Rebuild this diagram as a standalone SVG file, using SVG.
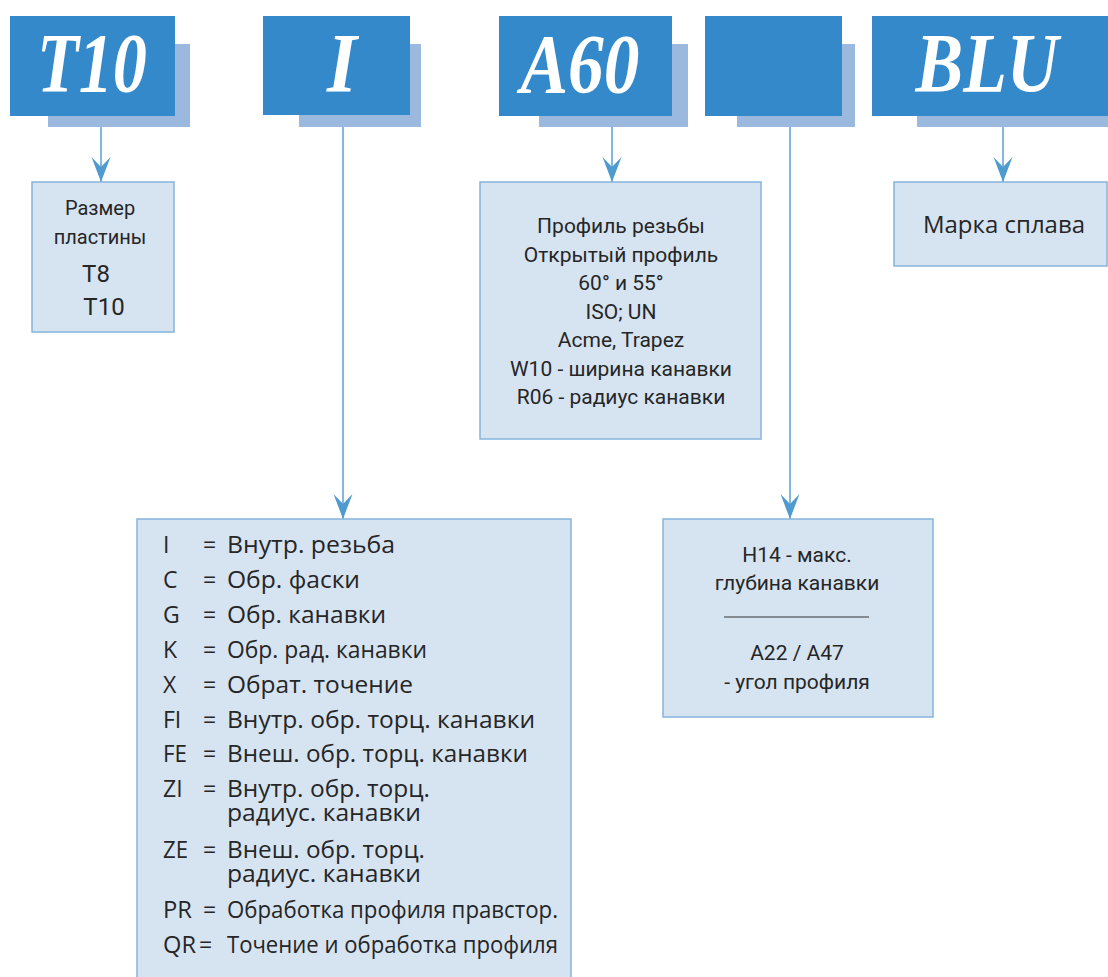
<svg xmlns="http://www.w3.org/2000/svg" width="1108" height="977" viewBox="0 0 1108 977">
<style>
.hdr{fill:#3489CA}
.shd{fill:#9BB9DF}
.ht{font-family:"Liberation Serif",serif;font-weight:bold;font-style:italic;font-size:84px;fill:#fff;text-anchor:middle}
.nb{fill:#D6E4F2;stroke:#86B4DC;stroke-width:1.5}
.t{font-family:Roboto,"Liberation Sans",sans-serif;fill:#262626;text-anchor:middle}
.lg{font-family:"Open Sans","Liberation Sans",sans-serif;font-size:23px;fill:#262626}
.cn{stroke:#5A9FD4;stroke-width:1.5;fill:none}
</style>
<defs>
<marker id="ah" markerUnits="userSpaceOnUse" viewBox="0 -10 25 20" refX="25" refY="0" markerWidth="25" markerHeight="20" orient="auto">
<path d="M0,-9.5 L25,0 L0,9.5 L10,0 Z" fill="#4E9BD0"/>
</marker>
</defs>

<g id="hdr-t10">
<rect class="shd" x="48" y="44" width="142" height="83"/>
<rect class="hdr" x="10" y="16" width="165" height="100"/>
<text class="ht" x="92" y="92" textLength="110" lengthAdjust="spacingAndGlyphs">T10</text>
</g>
<g id="hdr-i">
<rect class="shd" x="299" y="44" width="122" height="83"/>
<rect class="hdr" x="263" y="16" width="147" height="99"/>
<text class="ht" x="342" y="92" textLength="30" lengthAdjust="spacingAndGlyphs">I</text>
</g>
<g id="hdr-a60">
<rect class="shd" x="539" y="44" width="149" height="83"/>
<rect class="hdr" x="499" y="16" width="173" height="100"/>
<text class="ht" x="580" y="93" textLength="119" lengthAdjust="spacingAndGlyphs">A60</text>
</g>
<g id="hdr-blank">
<rect class="shd" x="737" y="44" width="118" height="83"/>
<rect class="hdr" x="705" y="16" width="137" height="100"/>
</g>
<g id="hdr-blu">
<rect class="shd" x="917" y="44" width="191" height="83"/>
<rect class="hdr" x="872" y="16" width="236" height="100"/>
<text class="ht" x="987" y="92" textLength="143" lengthAdjust="spacingAndGlyphs">BLU</text>
</g>

<g id="connectors">
<line class="cn" x1="101" y1="127" x2="101" y2="182" marker-end="url(#ah)"/>
<line class="cn" x1="343" y1="127" x2="343" y2="519" marker-end="url(#ah)"/>
<line class="cn" x1="612" y1="127" x2="612" y2="182" marker-end="url(#ah)"/>
<line class="cn" x1="790" y1="127" x2="790" y2="519" marker-end="url(#ah)"/>
<line class="cn" x1="1003" y1="127" x2="1003" y2="182" marker-end="url(#ah)"/>
</g>

<g id="node-size">
<rect class="nb" x="32" y="182" width="142" height="150"/>
<text class="t" x="100" y="215" font-size="20">Размер</text>
<text class="t" x="100" y="244" font-size="20">пластины</text>
<text class="t" x="96" y="282" font-size="24">T8</text>
<text class="t" x="104" y="315" font-size="24">T10</text>
</g>

<g id="node-profile">
<rect class="nb" x="480" y="182" width="281" height="257"/>
<g font-size="21">
<text class="t" x="621" y="233">Профиль резьбы</text>
<text class="t" x="621" y="261.5">Открытый профиль</text>
<text class="t" x="621" y="290">60° и 55°</text>
<text class="t" x="621" y="318.5">ISO; UN</text>
<text class="t" x="621" y="347">Acme, Trapez</text>
<text class="t" x="621" y="375.5">W10 - ширина канавки</text>
<text class="t" x="621" y="404">R06 - радиус канавки</text>
</g>
</g>

<g id="node-grade">
<rect class="nb" x="894" y="182" width="213" height="84"/>
<text x="1004" y="233" font-family="'Open Sans','Liberation Sans',sans-serif" font-size="24" fill="#262626" text-anchor="middle">Марка сплава</text>
</g>

<g id="node-ops">
<rect class="nb" x="137" y="519" width="434" height="470"/>
<g class="lg">
<text x="163" y="553">I</text><text x="203" y="553">=</text><text x="227" y="553" textLength="168" lengthAdjust="spacingAndGlyphs">Внутр. резьба</text>
<text x="163" y="588">C</text><text x="203" y="588">=</text><text x="227" y="588" textLength="133" lengthAdjust="spacingAndGlyphs">Обр. фаски</text>
<text x="163" y="623">G</text><text x="203" y="623">=</text><text x="227" y="623" textLength="159" lengthAdjust="spacingAndGlyphs">Обр. канавки</text>
<text x="163" y="658">K</text><text x="203" y="658">=</text><text x="227" y="658" textLength="200" lengthAdjust="spacingAndGlyphs">Обр. рад. канавки</text>
<text x="163" y="693">X</text><text x="203" y="693">=</text><text x="227" y="693" textLength="186" lengthAdjust="spacingAndGlyphs">Обрат. точение</text>
<text x="163" y="728">FI</text><text x="203" y="728">=</text><text x="227" y="728" textLength="308" lengthAdjust="spacingAndGlyphs">Внутр. обр. торц. канавки</text>
<text x="163" y="762" textLength="24" lengthAdjust="spacingAndGlyphs">FE</text><text x="203" y="762">=</text><text x="227" y="762" textLength="301" lengthAdjust="spacingAndGlyphs">Внеш. обр. торц. канавки</text>
<text x="163" y="797">ZI</text><text x="203" y="797">=</text><text x="227" y="797" textLength="203" lengthAdjust="spacingAndGlyphs">Внутр. обр. торц.</text>
<text x="227" y="821" textLength="194" lengthAdjust="spacingAndGlyphs">радиус. канавки</text>
<text x="163" y="858" textLength="25" lengthAdjust="spacingAndGlyphs">ZE</text><text x="203" y="858">=</text><text x="227" y="858" textLength="198" lengthAdjust="spacingAndGlyphs">Внеш. обр. торц.</text>
<text x="227" y="882" textLength="194" lengthAdjust="spacingAndGlyphs">радиус. канавки</text>
<text x="163" y="918" textLength="29" lengthAdjust="spacingAndGlyphs">PR</text><text x="203" y="918">=</text><text x="227" y="918" textLength="331" lengthAdjust="spacingAndGlyphs">Обработка профиля правстор.</text>
<text x="163" y="953" textLength="33" lengthAdjust="spacingAndGlyphs">QR</text><text x="199" y="953">=</text><text x="227" y="953" textLength="331" lengthAdjust="spacingAndGlyphs">Точение и обработка профиля</text>
</g>
</g>

<g id="node-depth">
<rect class="nb" x="663" y="519" width="270" height="198"/>
<g font-size="21">
<text class="t" x="797" y="562">H14 - макс.</text>
<text class="t" x="797" y="590">глубина канавки</text>
<line x1="724" y1="617" x2="869" y2="617" stroke="#333" stroke-width="1"/>
<text class="t" x="797" y="660">A22 / A47</text>
<text class="t" x="797" y="689">- угол профиля</text>
</g>
</g>
</svg>
